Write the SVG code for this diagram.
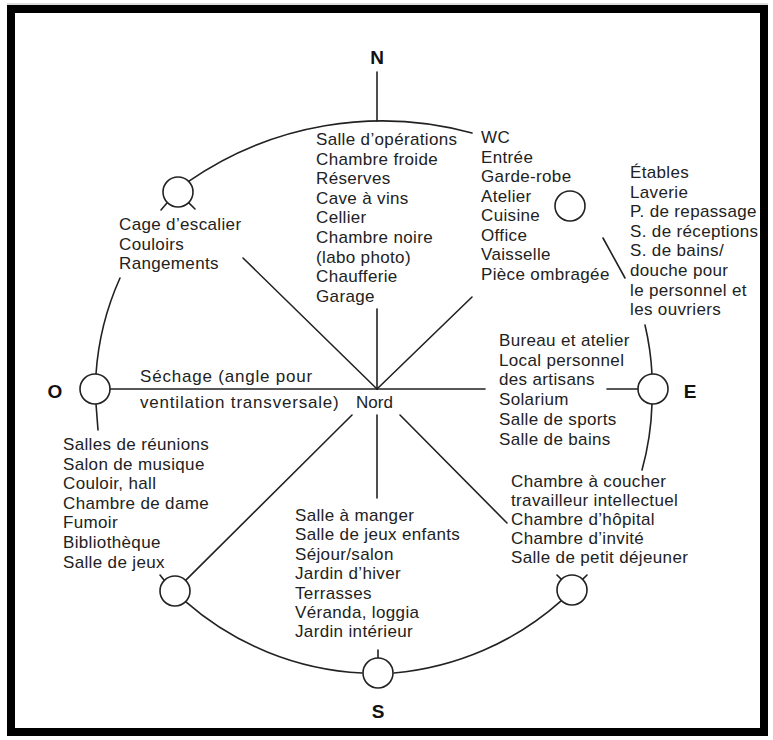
<svg xmlns="http://www.w3.org/2000/svg" width="773" height="740" viewBox="0 0 773 740">
<style>
.t{font-family:"Liberation Sans",Arial,sans-serif;font-size:17px;fill:#222;letter-spacing:0.35px}
.w{letter-spacing:0.8px}
.c{font-family:"Liberation Sans",Arial,sans-serif;font-size:19px;font-weight:bold;fill:#111;text-anchor:middle}
.ln{stroke:#222;stroke-width:1.6;fill:none;stroke-linecap:round}
.nd{stroke:#222;stroke-width:1.6;fill:#fff}
</style>
<rect x="0" y="0" width="773" height="740" fill="#fff"/>
<line x1="7" y1="4" x2="768" y2="4" stroke="#bbb" stroke-width="1"/>
<rect x="11" y="9" width="753" height="723" fill="none" stroke="#000" stroke-width="8"/>

<g id="connectors" class="ln">
  <!-- ring -->
  <path d="M188.6,181.4 A340,340 0 0 1 472,133"/>
  <path d="M603,238 L625,278"/>
  <path d="M645,325 A278,278 0 0 1 652,374"/>
  <path d="M652,404 A278,278 0 0 1 642,470"/>
  <path d="M582.6,579.4 L587,575"/>
  <path d="M561.4,600.6 A290,290 0 0 1 394,673"/>
  <path d="M362,673 A290,290 0 0 1 185.6,601.6"/>
  <path d="M164.4,580.4 L160,575"/>
  <path d="M96,404 L98,430"/>
  <path d="M96,374 A280,280 0 0 1 120,278"/>
  <path d="M166.7,203.3 L161,210"/>
  <path d="M378,658 L378,650"/>
  <!-- rays -->
  <path d="M377,72 L377,121"/>
  <path d="M377,309 L377,389"/>
  <path d="M377,389 L243,258"/>
  <path d="M377,389 L472,297"/>
  <path d="M110,389 L377,389"/>
  <path d="M377,389 L485,389"/>
  <path d="M607,389 L638,389"/>
  <path d="M400,415 L507,523"/>
  <path d="M377,415 L377,498"/>
  <path d="M352,415 L185.6,580.4"/>
  <path d="M188.6,202.6 L195,209"/>
  <path d="M561.4,579.4 L557,575"/>
</g>

<g id="node-nw">
  <circle class="nd" cx="178" cy="192" r="15"/>
  <text class="t" x="119" y="230">Cage d’escalier</text>
  <text class="t" x="119" y="249.5">Couloirs</text>
  <text class="t" x="119" y="269">Rangements</text>
</g>
<g id="node-n">
  <text class="c" x="377" y="64">N</text>
  <text class="t" x="316" y="145">Salle d’opérations</text>
  <text class="t" x="316" y="164.6">Chambre froide</text>
  <text class="t" x="316" y="184.2">Réserves</text>
  <text class="t" x="316" y="203.8">Cave à vins</text>
  <text class="t" x="316" y="223.4">Cellier</text>
  <text class="t" x="316" y="243">Chambre noire</text>
  <text class="t" x="316" y="262.6">(labo photo)</text>
  <text class="t" x="316" y="282.2">Chaufferie</text>
  <text class="t" x="316" y="301.8">Garage</text>
</g>
<g id="node-ne">
  <circle class="nd" cx="570" cy="206" r="15"/>
  <text class="t" x="481" y="143">WC</text>
  <text class="t" x="481" y="162.5">Entrée</text>
  <text class="t" x="481" y="182">Garde-robe</text>
  <text class="t" x="481" y="201.5">Atelier</text>
  <text class="t" x="481" y="221">Cuisine</text>
  <text class="t" x="481" y="240.5">Office</text>
  <text class="t" x="481" y="260">Vaisselle</text>
  <text class="t" x="481" y="279.5">Pièce ombragée</text>
</g>
<g id="node-ene">
  <text class="t" x="630" y="178">Étables</text>
  <text class="t" x="630" y="197.6">Laverie</text>
  <text class="t" x="630" y="217.2">P. de repassage</text>
  <text class="t" x="630" y="236.8">S. de réceptions</text>
  <text class="t" x="630" y="256.4">S. de bains/</text>
  <text class="t" x="630" y="276">douche pour</text>
  <text class="t" x="630" y="295.6">le personnel et</text>
  <text class="t" x="630" y="315.2">les ouvriers</text>
</g>
<g id="node-w">
  <circle class="nd" cx="95" cy="389" r="15"/>
  <text class="c" x="55" y="398">O</text>
  <text class="t w" x="140" y="382">Séchage (angle pour</text>
  <text class="t w" x="140" y="408">ventilation transversale)</text>
</g>
<g id="node-center">
  <text class="t" x="356" y="408" style="letter-spacing:0">Nord</text>
</g>
<g id="node-e">
  <circle class="nd" cx="653" cy="389" r="15"/>
  <text class="c" x="690" y="398">E</text>
  <text class="t" x="499" y="346">Bureau et atelier</text>
  <text class="t" x="499" y="365.7">Local personnel</text>
  <text class="t" x="499" y="385.4">des artisans</text>
  <text class="t" x="499" y="405.1">Solarium</text>
  <text class="t" x="499" y="424.8">Salle de sports</text>
  <text class="t" x="499" y="444.5">Salle de bains</text>
</g>
<g id="node-sw">
  <circle class="nd" cx="175" cy="591" r="15"/>
  <text class="t" x="63" y="450">Salles de réunions</text>
  <text class="t" x="63" y="469.6">Salon de musique</text>
  <text class="t" x="63" y="489.2">Couloir, hall</text>
  <text class="t" x="63" y="508.8">Chambre de dame</text>
  <text class="t" x="63" y="528.4">Fumoir</text>
  <text class="t" x="63" y="548">Bibliothèque</text>
  <text class="t" x="63" y="567.6">Salle de jeux</text>
</g>
<g id="node-s">
  <circle class="nd" cx="378" cy="673" r="15"/>
  <text class="c" x="378" y="718">S</text>
  <text class="t" x="295" y="521">Salle à manger</text>
  <text class="t" x="295" y="540.4">Salle de jeux enfants</text>
  <text class="t" x="295" y="559.8">Séjour/salon</text>
  <text class="t" x="295" y="579.2">Jardin d’hiver</text>
  <text class="t" x="295" y="598.6">Terrasses</text>
  <text class="t" x="295" y="618">Véranda, loggia</text>
  <text class="t" x="295" y="637.4">Jardin intérieur</text>
</g>
<g id="node-se">
  <circle class="nd" cx="572" cy="590" r="15"/>
  <text class="t" x="511" y="487">Chambre à coucher</text>
  <text class="t" x="511" y="506">travailleur intellectuel</text>
  <text class="t" x="511" y="525">Chambre d’hôpital</text>
  <text class="t" x="511" y="544">Chambre d’invité</text>
  <text class="t" x="511" y="563">Salle de petit déjeuner</text>
</g>
</svg>
